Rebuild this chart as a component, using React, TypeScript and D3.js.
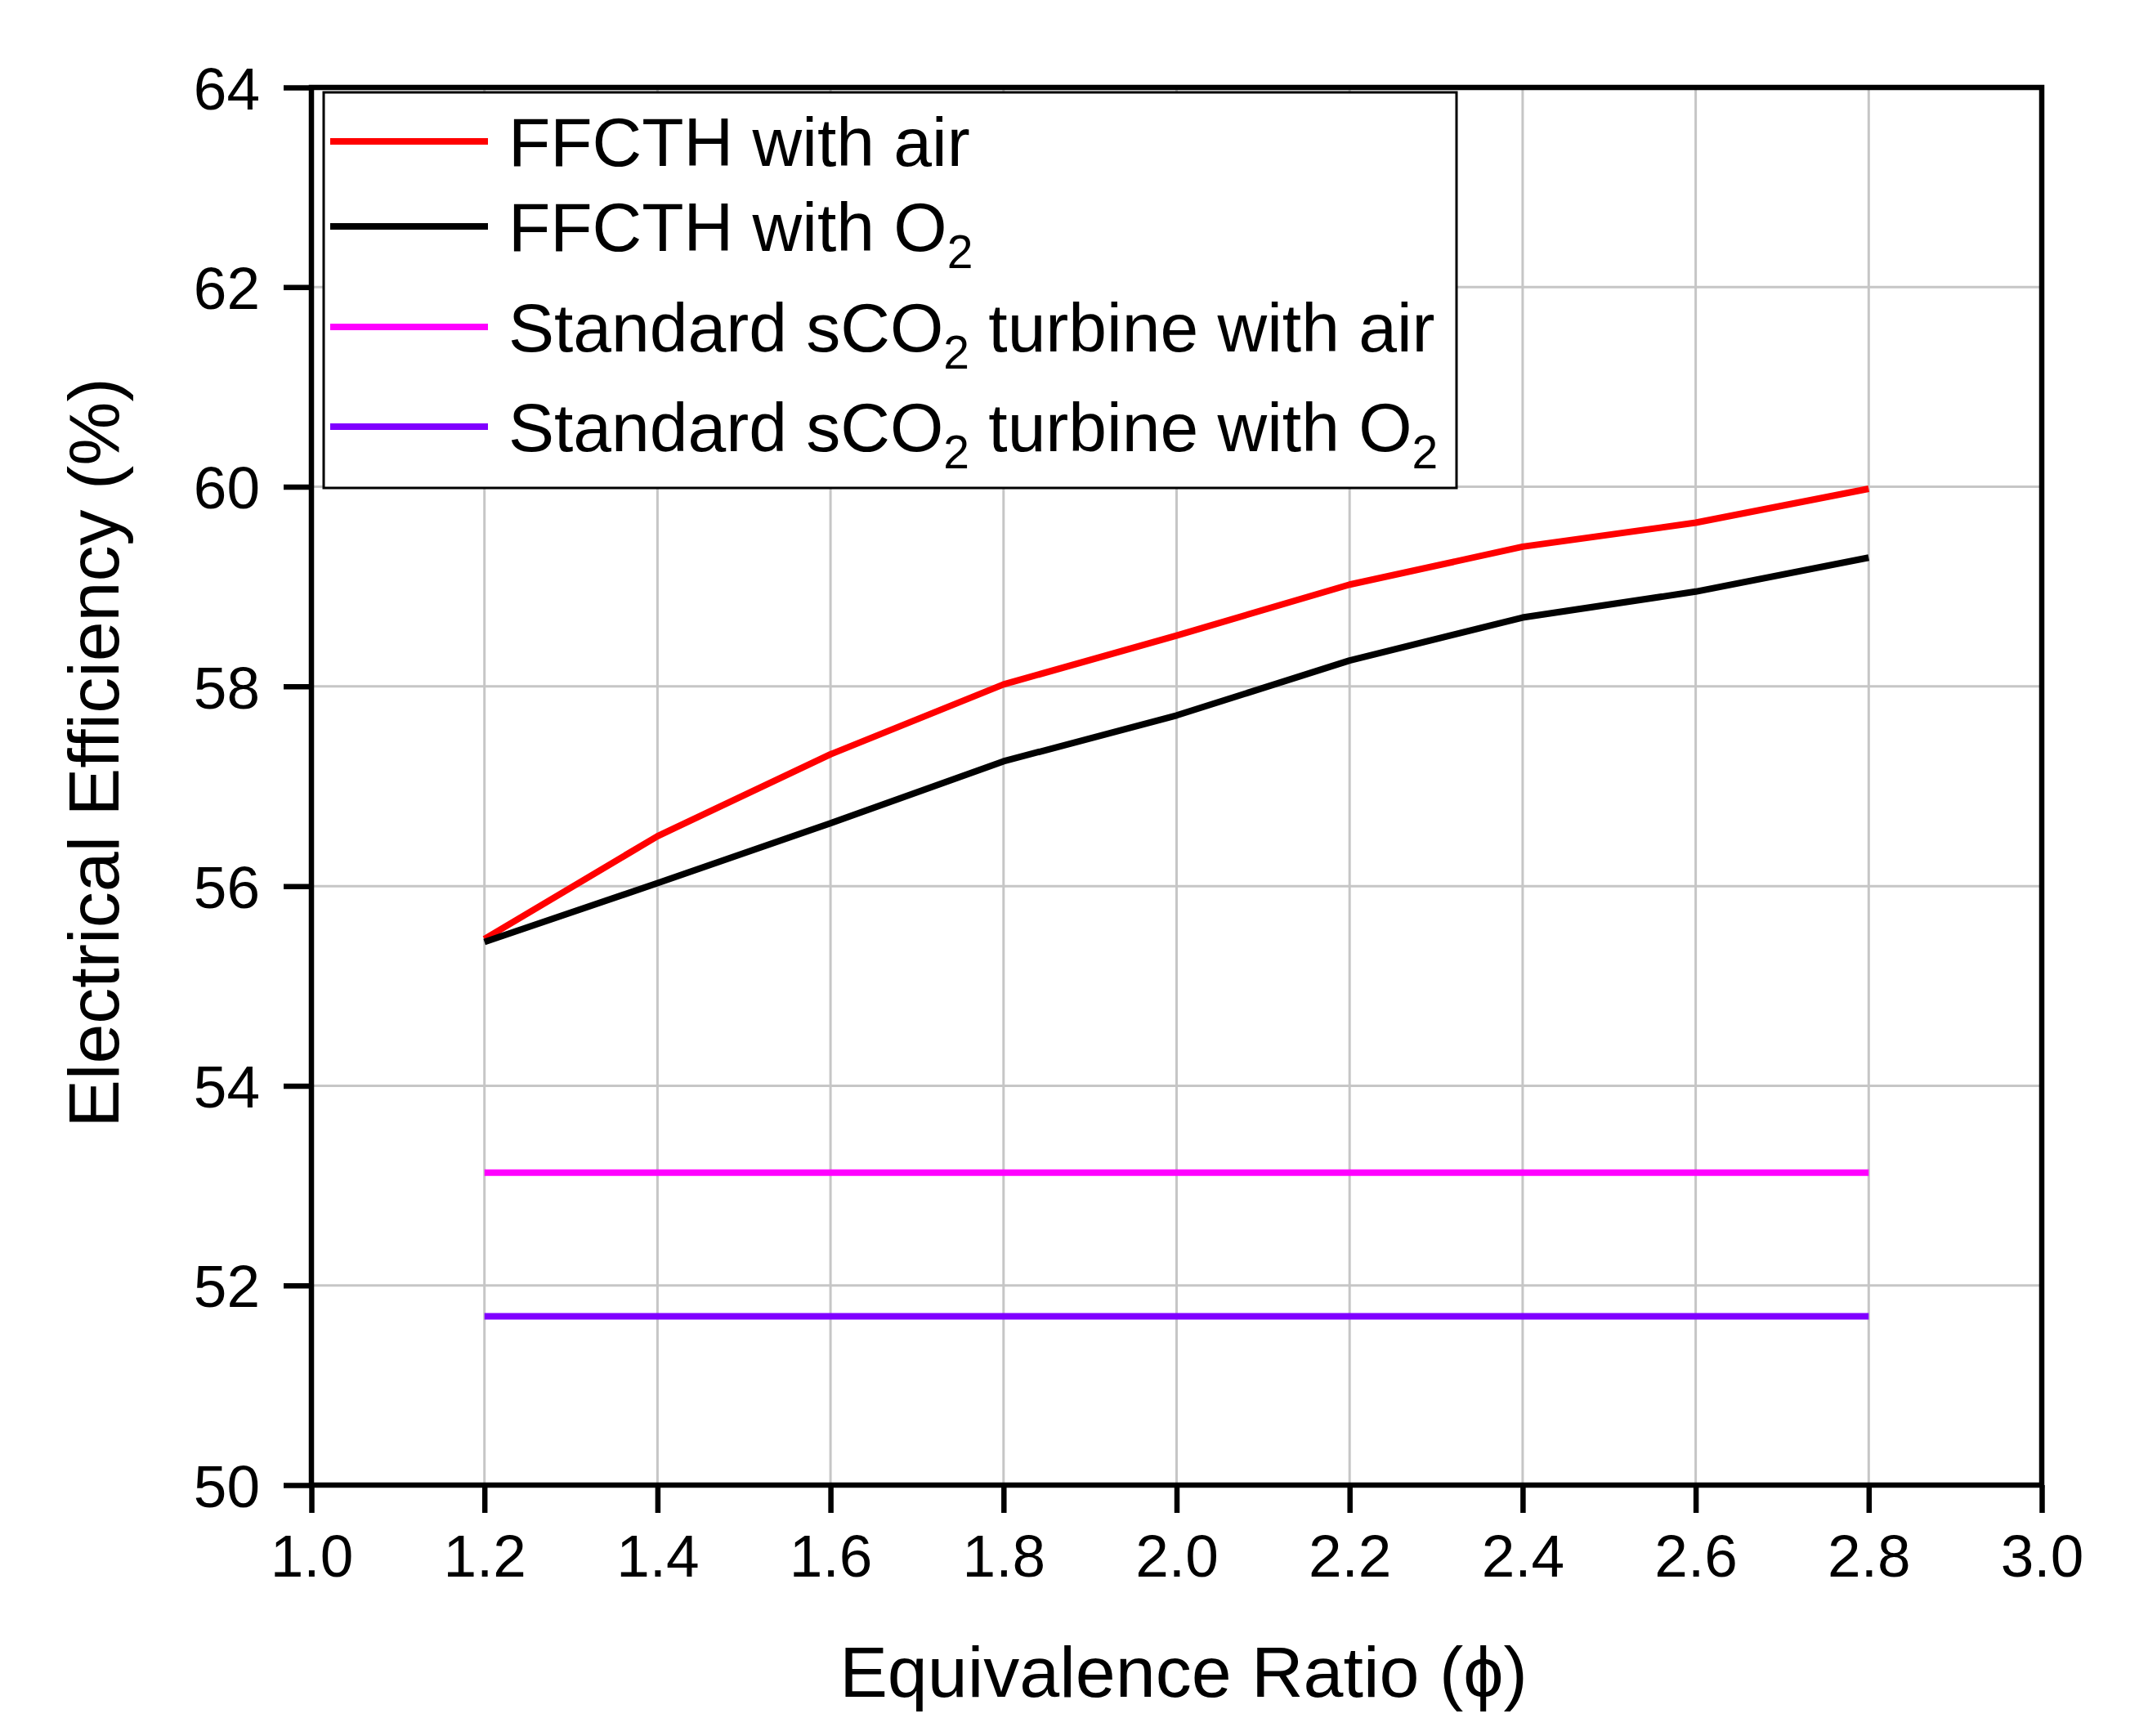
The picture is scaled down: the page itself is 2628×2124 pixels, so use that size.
import { useEffect, useRef } from 'react';
import * as d3 from 'd3';

// Equivalence ratio (phi)
const phi = [1.2, 1.4, 1.6, 1.8, 2.0, 2.2, 2.4, 2.6, 2.8];

// Electrical efficiency (%)
const ffcthAir = [55.47, 56.5, 57.32, 58.02, 58.51, 59.02, 59.4, 59.64, 59.98];
const ffcthO2 = [55.44, 56.03, 56.63, 57.25, 57.71, 58.26, 58.69, 58.95, 59.29];
const standardAir = [53.13, 53.13, 53.13, 53.13, 53.13, 53.13, 53.13, 53.13, 53.13];
const standardO2 = [51.69, 51.69, 51.69, 51.69, 51.69, 51.69, 51.69, 51.69, 51.69];

const xTicks = [1.0, 1.2, 1.4, 1.6, 1.8, 2.0, 2.2, 2.4, 2.6, 2.8, 3.0];
const yTicks = [50, 52, 54, 56, 58, 60, 62, 64];

// legend: label split into [text, subscript] pieces
const seriesNames = [
  [['FFCTH with air', false]],
  [['FFCTH with O', false], ['2', true]],
  [['Standard sCO', false], ['2', true], [' turbine with air', false]],
  [['Standard sCO', false], ['2', true], [' turbine with O', false], ['2', true]],
] as [string, boolean][][];
const seriesColors = ['#ff0000', '#000000', '#ff00ff', '#8000ff'];
const seriesValues = [ffcthAir, ffcthO2, standardAir, standardO2];

const FONT = '"Liberation Sans", Arial, Helvetica, sans-serif';

export default function App() {
  const svgRef = useRef<SVGSVGElement>(null);

  useEffect(() => {
    if (!svgRef.current) return;
    const svg = d3.select(svgRef.current);
    svg.selectAll('*').remove();

    const width = 2628;
    const height = 2124;
    const margin = { left: 381, right: 130, top: 107, bottom: 307 };
    const innerW = width - margin.left - margin.right;
    const innerH = height - margin.top - margin.bottom;

    svg.attr('width', width).attr('height', height).style('font-family', FONT);

    const g = svg.append('g').attr('transform', `translate(${margin.left},${margin.top})`);

    const x = d3.scaleLinear().domain([1.0, 3.0]).range([0, innerW]);
    const y = d3.scaleLinear().domain([50, 64]).range([innerH, 0]);

    // Grid lines
    g.append('g')
      .selectAll('line')
      .data(xTicks.slice(1, -1))
      .join('line')
      .attr('x1', (d) => x(d))
      .attr('x2', (d) => x(d))
      .attr('y1', 0)
      .attr('y2', innerH)
      .attr('stroke', '#c6c6c6')
      .attr('stroke-width', 3);

    g.append('g')
      .selectAll('line')
      .data(yTicks.slice(1, -1))
      .join('line')
      .attr('x1', 0)
      .attr('x2', innerW)
      .attr('y1', (d) => y(d))
      .attr('y2', (d) => y(d))
      .attr('stroke', '#c6c6c6')
      .attr('stroke-width', 3);

    // Series lines
    const line = d3
      .line<number>()
      .x((_, i) => x(phi[i]))
      .y((d) => y(d));

    seriesValues.forEach((vals, i) => {
      g.append('path')
        .datum(vals)
        .attr('d', line)
        .attr('fill', 'none')
        .attr('stroke', seriesColors[i])
        .attr('stroke-width', 8)
        .attr('stroke-linejoin', 'round');
    });

    // Axes
    const xAxis = d3
      .axisBottom(x)
      .tickValues(xTicks)
      .tickSize(34)
      .tickSizeOuter(0)
      .tickPadding(26)
      .tickFormat(d3.format('.1f'));

    const xg = g.append('g').attr('transform', `translate(0,${innerH})`).call(xAxis);
    xg.select('.domain').remove();
    xg.selectAll('line').attr('stroke', '#000').attr('stroke-width', 6.5);
    xg.selectAll('text').attr('font-size', 73).attr('font-family', FONT).attr('fill', '#000');

    const yAxis = d3
      .axisLeft(y)
      .tickValues(yTicks)
      .tickSize(34)
      .tickSizeOuter(0)
      .tickPadding(29)
      .tickFormat(d3.format('d'));

    const yg = g.append('g').call(yAxis);
    yg.select('.domain').remove();
    yg.selectAll('line').attr('stroke', '#000').attr('stroke-width', 6.5);
    yg.selectAll('text')
      .attr('font-size', 73)
      .attr('font-family', FONT)
      .attr('fill', '#000')
      .attr('dy', '0.36em');

    // Frame
    g.append('rect')
      .attr('x', 0)
      .attr('y', 0)
      .attr('width', innerW)
      .attr('height', innerH)
      .attr('fill', 'none')
      .attr('stroke', '#000')
      .attr('stroke-width', 6.5);

    // Legend
    const legend = svg.append('g');
    legend
      .append('rect')
      .attr('x', 396)
      .attr('y', 113)
      .attr('width', 1386)
      .attr('height', 484)
      .attr('fill', '#fff')
      .attr('stroke', '#000')
      .attr('stroke-width', 3);

    const rowY = [173, 277, 400, 522];
    seriesNames.forEach((parts, i) => {
      legend
        .append('line')
        .attr('x1', 404)
        .attr('x2', 597)
        .attr('y1', rowY[i])
        .attr('y2', rowY[i])
        .attr('stroke', seriesColors[i])
        .attr('stroke-width', 8);

      const t = legend
        .append('text')
        .attr('x', 622)
        .attr('y', rowY[i] + 30)
        .attr('font-size', 84)
        .attr('fill', '#000');
      parts.forEach(([s, sub]) => {
        if (sub) {
          t.append('tspan').attr('font-size', 57).attr('dy', 21).text(s);
        } else {
          const ts = t.append('tspan').text(s);
          if (t.selectAll('tspan').size() > 1) ts.attr('dy', -21);
        }
      });
    });

    // Axis titles
    svg
      .append('text')
      .attr('x', 1448)
      .attr('y', 2076)
      .attr('text-anchor', 'middle')
      .attr('font-size', 88)
      .attr('fill', '#000')
      .text('Equivalence Ratio (ϕ)');

    svg
      .append('text')
      .attr('transform', 'translate(145,921) rotate(-90)')
      .attr('text-anchor', 'middle')
      .attr('font-size', 88)
      .attr('fill', '#000')
      .text('Electrical Efficiency (%)');
  }, []);

  return (
    <div style={{ position: 'absolute', left: 0, top: 0, background: '#fff' }}>
      <svg ref={svgRef} style={{ display: 'block' }} />
    </div>
  );
}
